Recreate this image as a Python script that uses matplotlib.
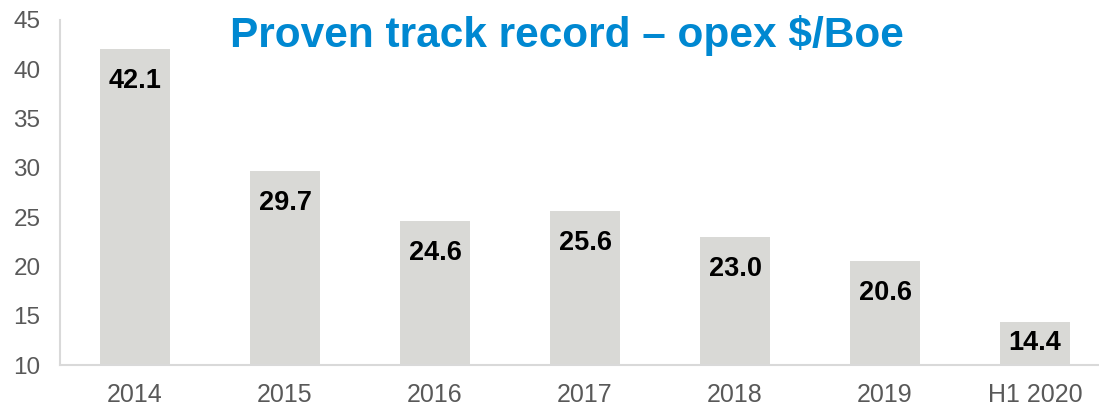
import matplotlib
matplotlib.use('Agg')
import matplotlib.pyplot as plt

yillar = ['2014', '2015', '2016', '2017', '2018', '2019', 'H1 2020']
opex = [42.1, 29.7, 24.6, 25.6, 23.0, 20.6, 14.4]
etiketler = ['42.1', '29.7', '24.6', '25.6', '23.0', '20.6', '14.4']

plt.rcParams['font.family'] = ['Liberation Sans', 'DejaVu Sans']

fig = plt.figure(figsize=(10.99, 4.08), dpi=100)
ax = fig.add_axes([60 / 1099, 43 / 408, 1050 / 1099, 345 / 408])

x = range(len(yillar))
ax.bar(x, [v - 10 for v in opex], bottom=10, width=0.467, color='#d9d9d6', zorder=2)

# etiketler cubugun ust kismina, kisa cubukta tabana carpmasin
for i, v in enumerate(opex):
    ax.text(i, max(v - 3.25, 12.2), etiketler[i], ha='center', va='center',
            fontsize=19.5, fontweight='bold', color='black')

ax.set_xlim(-0.5, 6.5)
ax.set_ylim(10, 45)
ax.set_yticks(range(10, 46, 5))
ax.set_xticks(list(x))
ax.set_xticklabels(yillar)
ax.tick_params(axis='both', length=0, colors='#595959')
ax.tick_params(axis='y', pad=14, labelsize=17.5)
ax.tick_params(axis='x', pad=13, labelsize=18)

for s in ['top', 'right']:
    ax.spines[s].set_visible(False)
for s in ['left', 'bottom']:
    ax.spines[s].set_color('#d9d9d9')
    ax.spines[s].set_linewidth(1.5)

fig.text(567 / 1099, 1 - 36 / 408, 'Proven track record – opex $/Boe', ha='center', va='center',
         fontsize=30.5, fontweight='bold', color='#0088d1')

fig.savefig('out.png', dpi=100)
